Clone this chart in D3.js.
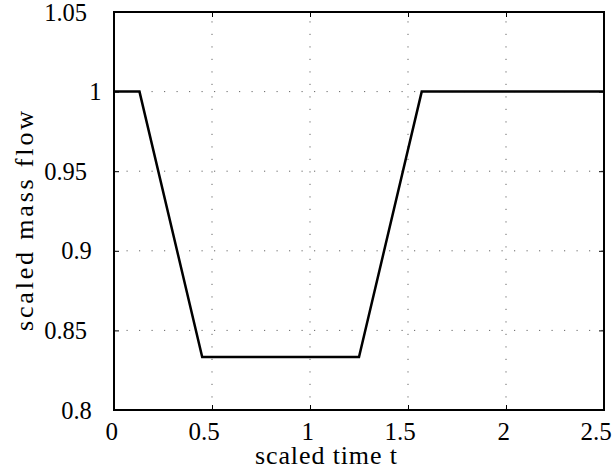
<!DOCTYPE html>
<html lang="en">
<head>
    <meta charset="UTF-8">
    <title>Scaled mass flow</title>
    <script src="https://cdn.jsdelivr.net/npm/d3@7/dist/d3.min.js"></script>
</head>
<body style="margin: 0; background: #fff;">
<svg width="614" height="474"></svg>
<script>
// profile of the scaled mass flow over scaled time
const timeValues = [0, 0.13, 0.45, 1.25, 1.57, 2.5];
const flowValues = [1, 1, 0.8333, 0.8333, 1, 1];
const xTicks = [0, 0.5, 1, 1.5, 2, 2.5];
const yTicks = [0.8, 0.85, 0.9, 0.95, 1, 1.05];

const data = timeValues.map((t, i) => ({t: t, v: flowValues[i]}));

const margin = {top: 12, right: 10, bottom: 64, left: 114};
const width = 614 - margin.left - margin.right;
const height = 474 - margin.top - margin.bottom;
const serif = "'Liberation Serif', 'Tinos', serif";

const svg = d3.select("svg");
const g = svg.append("g")
    .attr("transform", "translate(" + margin.left + "," + margin.top + ")");

const x = d3.scaleLinear().domain([0, 2.5]).range([0, width]);
const y = d3.scaleLinear().domain([0.8, 1.05]).range([height, 0]);

// dotted grid
g.append("g").selectAll("line").data(xTicks.slice(1, -1)).join("line")
    .attr("x1", d => x(d)).attr("x2", d => x(d))
    .attr("y1", height).attr("y2", 0)
    .attr("stroke", "#666").attr("stroke-width", 1)
    .attr("stroke-dasharray", "1.2,11.3");
g.append("g").selectAll("line").data(yTicks.slice(1, -1)).join("line")
    .attr("x1", 0).attr("x2", width)
    .attr("y1", d => y(d)).attr("y2", d => y(d))
    .attr("stroke", "#666").attr("stroke-width", 1)
    .attr("stroke-dasharray", "1.2,11.3");

// axes with inward ticks on all four sides
const fmt = d3.format("");
const xa = g.append("g")
    .attr("transform", "translate(0," + height + ")")
    .call(d3.axisBottom(x).tickValues(xTicks).tickFormat(fmt).tickSizeInner(-5).tickSizeOuter(0).tickPadding(0));
const ya = g.append("g")
    .call(d3.axisLeft(y).tickValues(yTicks).tickFormat(fmt).tickSizeInner(-5).tickSizeOuter(0).tickPadding(0));
g.append("g")
    .call(d3.axisTop(x).tickValues(xTicks).tickFormat("").tickSizeInner(-5).tickSizeOuter(0));
g.append("g")
    .attr("transform", "translate(" + width + ",0)")
    .call(d3.axisRight(y).tickValues(yTicks).tickFormat("").tickSizeInner(-5).tickSizeOuter(0));

g.selectAll(".domain").remove();
g.selectAll(".tick line").attr("stroke", "#000").attr("stroke-width", 1);

xa.selectAll(".tick text")
    .style("font-family", serif)
    .style("font-size", "25px")
    .attr("y", 30)
    .attr("dy", 0)
    .attr("dx", d => -2.8 * fmt(d).length);
ya.selectAll(".tick text")
    .style("font-family", serif)
    .style("font-size", "24.5px")
    .attr("text-anchor", "end")
    .attr("x", d => -(7.8 + 4.8 * fmt(d).length))
    .attr("dy", "0.33em");

// frame
g.append("rect")
    .attr("width", width).attr("height", height)
    .attr("fill", "none").attr("stroke", "#000").attr("stroke-width", 2);

// the curve
g.append("path")
    .datum(data)
    .attr("fill", "none")
    .attr("stroke", "#000")
    .attr("stroke-width", 2.5)
    .attr("d", d3.line().x(d => x(d.t)).y(d => y(d.v)));

// axis labels
svg.append("text")
    .attr("x", 326)
    .attr("y", 464)
    .attr("text-anchor", "middle")
    .style("font-family", serif)
    .style("font-size", "26px")
    .attr("textLength", 142)
    .attr("lengthAdjust", "spacing")
    .text("scaled time t");
svg.append("text")
    .attr("transform", "translate(33,221) rotate(-90)")
    .attr("text-anchor", "middle")
    .style("font-family", serif)
    .style("font-size", "26px")
    .attr("textLength", 220)
    .attr("lengthAdjust", "spacing")
    .text("scaled mass flow");
</script>
</body>
</html>
